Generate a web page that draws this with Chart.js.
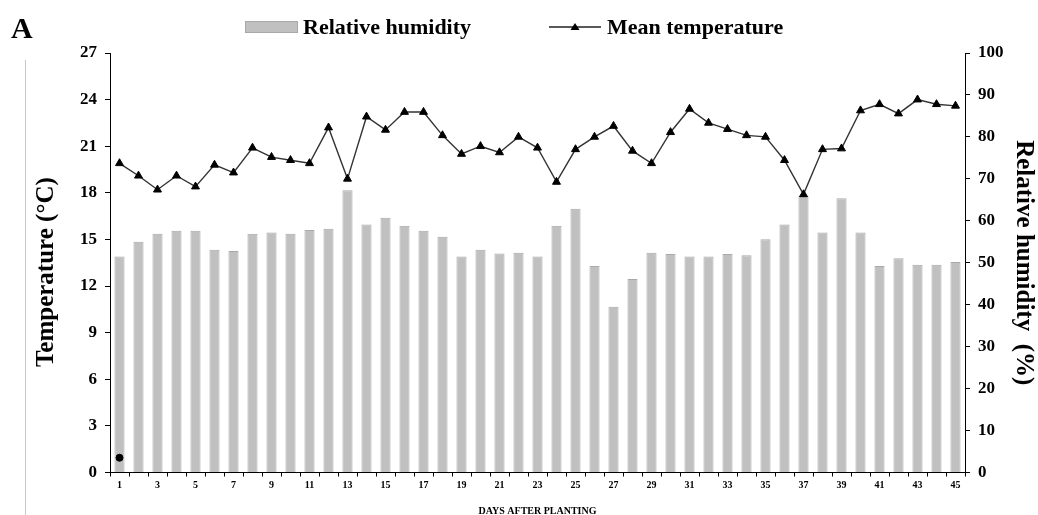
<!DOCTYPE html>
<html>
<head>
<meta charset="utf-8">
<script src="https://cdn.jsdelivr.net/npm/chart.js@4/dist/chart.umd.min.js"></script>
<style>
  html, body { margin: 0; padding: 0; background: #fff; }
  #wrap { position: relative; width: 1038px; height: 515px; overflow: hidden; font-family: "Liberation Serif", "Times New Roman", serif; }
  #c { position: absolute; left: 0; top: 0; }
  .lbl { position: absolute; font-weight: bold; white-space: nowrap; color: #000; }
  #panel { left: 11px; top: 13px; font-size: 30px; line-height: 30px; }
  #leg1txt { left: 303px; top: 16px; font-size: 22px; line-height: 22px; }
  #leg2txt { left: 607px; top: 16px; font-size: 22px; line-height: 22px; }
  #leg1box { position: absolute; left: 245px; top: 21px; width: 51px; height: 10px; background: #c0c0c0; border: 1px solid #a8a8a8; }
  #leg2sym { position: absolute; left: 549px; top: 21px; }
  #frame { position: absolute; left: 25px; top: 60px; width: 1px; height: 455px; background: #c8c8c8; }
</style>
</head>
<body>
<div id="wrap">
  <canvas id="c" width="1038" height="515"></canvas>
  <div id="frame"></div>
  <div class="lbl" id="panel">A</div>
  <div id="leg1box"></div>
  <div class="lbl" id="leg1txt">Relative humidity</div>
  <svg id="leg2sym" width="52" height="12"><line x1="0" y1="6" x2="52" y2="6" stroke="#222" stroke-width="1.3"/><polygon points="26,2 30.5,9 21.5,9" fill="#000"/></svg>
  <div class="lbl" id="leg2txt">Mean temperature</div>
</div>
<script>
const days = ['1','2','3','4','5','6','7','8','9','10','11','12','13','14','15','16','17','18','19','20','21','22','23','24','25','26','27','28','29','30','31','32','33','34','35','36','37','38','39','40','41','42','43','44','45'];
const relativeHumidity = [51.5,55.0,56.9,57.6,57.6,53.1,52.8,56.9,57.2,56.9,57.8,58.1,67.3,59.1,60.7,58.8,57.6,56.2,51.5,53.1,52.2,52.4,51.5,58.8,62.9,49.2,39.5,46.1,52.4,52.1,51.5,51.5,52.1,51.8,55.6,59.1,66.0,57.2,65.4,57.2,49.2,51.1,49.5,49.5,50.2];
const meanTemperature = [19.9,19.1,18.2,19.1,18.4,19.8,19.3,20.9,20.3,20.1,19.9,22.2,18.9,22.9,22.05,23.2,23.2,21.7,20.5,21.0,20.6,21.6,20.9,18.7,20.8,21.6,22.3,20.7,19.9,21.9,23.4,22.5,22.1,21.7,21.6,20.1,17.9,20.8,20.85,23.3,23.7,23.1,24.0,23.7,23.6];
const strayPoint = [0.95,null,null,null,null,null,null,null,null,null,null,null,null,null,null,null,null,null,null,null,null,null,null,null,null,null,null,null,null,null,null,null,null,null,null,null,null,null,null,null,null,null,null,null,null];
const tempTicks = [0,3,6,9,12,15,18,21,24,27];
const rhTicks = [0,10,20,30,40,50,60,70,80,90,100];

const SERIF = '"Liberation Serif", "Times New Roman", serif';

new Chart(document.getElementById('c'), {
  type: 'bar',
  data: {
    labels: days,
    datasets: [
      {
        type: 'line',
        label: 'Mean temperature',
        data: meanTemperature,
        yAxisID: 'yT',
        borderColor: '#333',
        borderWidth: 1.4,
        pointStyle: 'triangle',
        pointRadius: 4.6,
        pointBackgroundColor: '#000',
        pointBorderColor: '#000',
        pointBorderWidth: 1,
        tension: 0,
        order: 1
      },
      {
        type: 'line',
        label: '',
        data: strayPoint,
        yAxisID: 'yT',
        showLine: false,
        pointStyle: 'circle',
        pointRadius: 3.5,
        pointBackgroundColor: '#000',
        pointBorderColor: '#000',
        order: 0
      },
      {
        type: 'bar',
        label: 'Relative humidity',
        data: relativeHumidity,
        yAxisID: 'yH',
        backgroundColor: '#c0c0c0',
        borderColor: '#a8a8a8',
        borderWidth: 1,
        barPercentage: 0.53,
        categoryPercentage: 1.0,
        order: 2
      }
    ]
  },
  options: {
    responsive: false,
    animation: false,
    devicePixelRatio: 1,
    layout: { padding: { top: 53, left: 0, right: 0, bottom: 0 } },
    plugins: { legend: { display: false }, tooltip: { enabled: false } },
    scales: {
      x: {
        offset: true,
        grid: { display: true, drawOnChartArea: false, drawTicks: true, tickLength: 4, offset: true, color: '#000' },
        border: { display: true, color: '#000', width: 1 },
        ticks: {
          autoSkip: false, maxRotation: 0, minRotation: 0, padding: 3, color: '#000',
          font: { family: SERIF, size: 10, weight: 'bold' },
          callback: function(v, i) { return (i % 2 === 0) ? days[i] : ''; }
        },
        title: { display: true, text: 'DAYS AFTER PLANTING', color: '#000', font: { family: SERIF, size: 10, weight: 'bold', lineHeight: 0.8 }, padding: { top: 0, bottom: 0 } },
        afterFit: function(s) { s.height = 42.5; }
      },
      yT: {
        position: 'left',
        min: 0, max: 27,
        afterBuildTicks: function(s) { s.ticks = tempTicks.map(v => ({ value: v })); },
        grid: { drawOnChartArea: false, drawTicks: true, tickLength: 5, color: '#000' },
        border: { display: true, color: '#000', width: 1 },
        ticks: { padding: 8, color: '#000', font: { family: SERIF, size: 17, weight: 'bold' } },
        title: { display: true, text: 'Temperature (°C)   ', color: '#000', font: { family: SERIF, size: 25, weight: 'bold', lineHeight: 1.2 }, padding: { top: 32, bottom: 0 } },
        afterFit: function(s) { s.width = 110; }
      },
      yH: {
        position: 'right',
        min: 0, max: 100,
        afterBuildTicks: function(s) { s.ticks = rhTicks.map(v => ({ value: v })); },
        grid: { drawOnChartArea: false, drawTicks: true, tickLength: 5, color: '#000' },
        border: { display: true, color: '#000', width: 1 },
        ticks: { padding: 8, color: '#000', font: { family: SERIF, size: 17, weight: 'bold' } },
        title: { display: true, text: 'Relative humidity  (%)', color: '#000', font: { family: SERIF, size: 25, weight: 'bold', lineHeight: 1.2 }, padding: { top: 0, bottom: 0 } },
        afterFit: function(s) { s.width = 73; }
      }
    }
  }
});
</script>
</body>
</html>
